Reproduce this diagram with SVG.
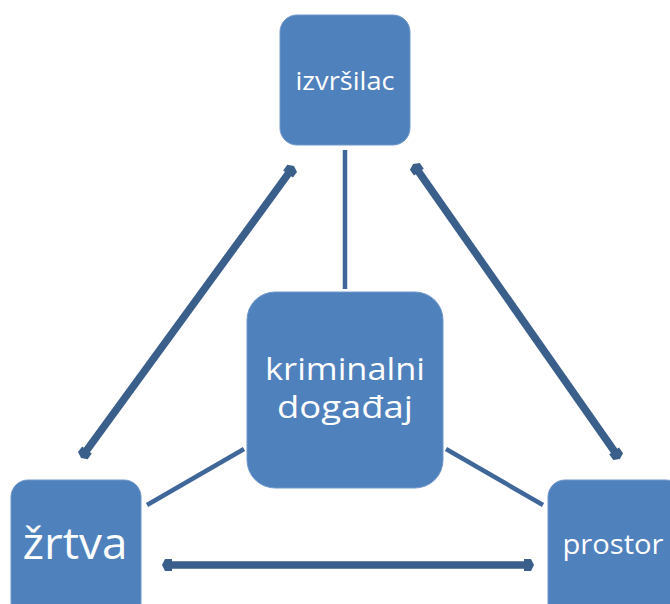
<svg xmlns="http://www.w3.org/2000/svg" width="670" height="604" viewBox="0 0 670 604">
<style>
.box{fill:#4F81BD;stroke:#6F97C9;stroke-width:1}
.t{fill:#ffffff;font-family:"Open Sans","Noto Sans",sans-serif;text-anchor:middle}
.thin{stroke:#3F679A;stroke-width:4.5;fill:none}
.thick{stroke:#3A5F8B;stroke-width:7.5;fill:none;marker-start:url(#ah);marker-end:url(#ah)}
</style>
<defs>
<marker id="ah" markerUnits="userSpaceOnUse" viewBox="-6 -7 12 14" refX="0" refY="0" markerWidth="12" markerHeight="14" orient="auto-start-reverse">
<path d="M-5,-6 L2,-6 L5,0 L2,6 L-5,6 Z" fill="#3A5F8B"/>
</marker>
</defs>
<g id="connectors">
<line class="thin" x1="345" y1="150" x2="345" y2="289"/>
<line class="thin" x1="244" y1="449" x2="147" y2="505"/>
<line class="thin" x1="446" y1="449" x2="543" y2="505"/>
<line class="thick" x1="84" y1="454" x2="291" y2="170"/>
<line class="thick" x1="416" y1="168" x2="617" y2="455"/>
<line class="thick" x1="167" y1="565" x2="529" y2="565"/>
</g>
<g id="izvrsilac">
<rect class="box" x="280" y="15" width="130" height="130" rx="17"/>
<text class="t" x="345" y="90" font-size="26" textLength="99" lengthAdjust="spacingAndGlyphs">izvršilac</text>
</g>
<g id="kriminalni-dogadjaj">
<rect class="box" x="247" y="292" width="196" height="196" rx="28"/>
<text class="t" x="345" y="380" font-size="31" textLength="160" lengthAdjust="spacingAndGlyphs">kriminalni</text>
<text class="t" x="345" y="418" font-size="31" textLength="136" lengthAdjust="spacingAndGlyphs">događaj</text>
</g>
<g id="zrtva">
<rect class="box" x="11" y="480" width="130" height="140" rx="17"/>
<text class="t" x="75" y="559" font-size="44" textLength="105" lengthAdjust="spacingAndGlyphs">žrtva</text>
</g>
<g id="prostor">
<rect class="box" x="548" y="480" width="135" height="140" rx="17"/>
<text class="t" x="613" y="554" font-size="28" textLength="101" lengthAdjust="spacingAndGlyphs">prostor</text>
</g>
</svg>
